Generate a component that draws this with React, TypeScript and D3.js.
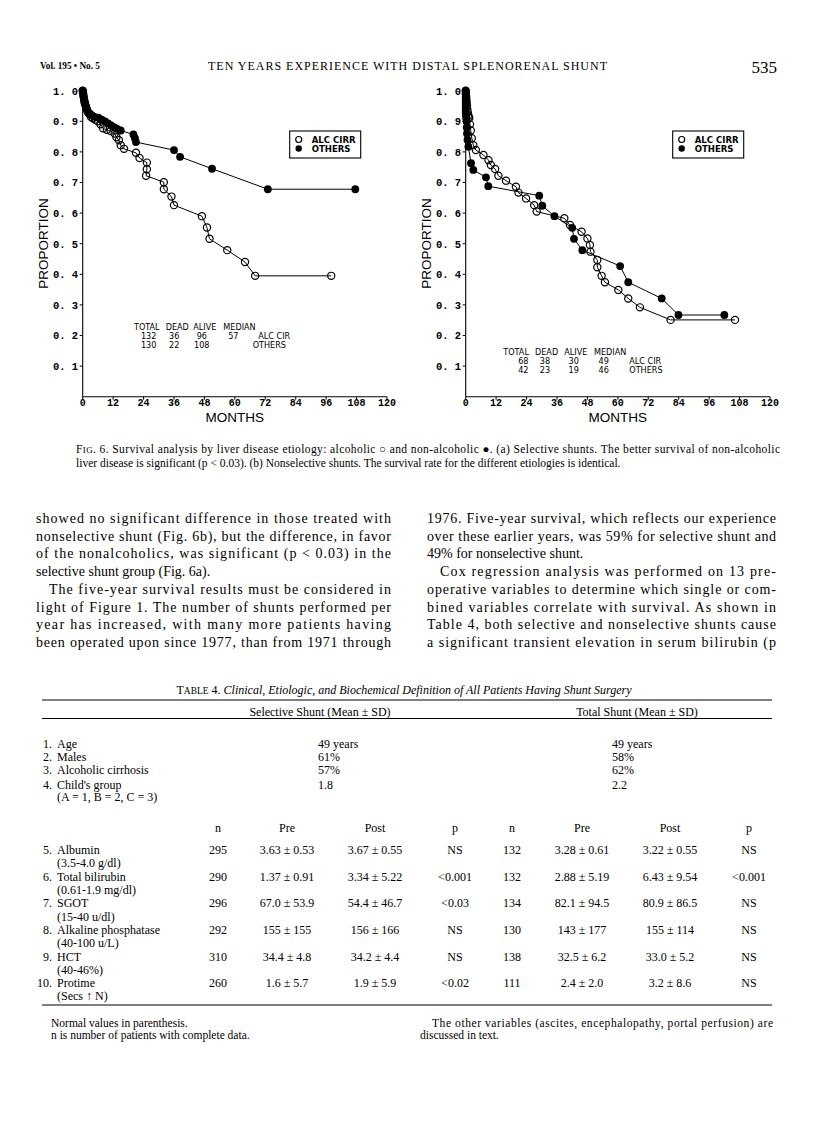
import React from 'react';
import * as d3 from 'd3';

// ---------- Chart data ----------
const xTicks = [0, 12, 24, 36, 48, 60, 72, 84, 96, 108, 120];
const yTicks = [0.1, 0.2, 0.3, 0.4, 0.5, 0.6, 0.7, 0.8, 0.9, 1.0];
const legendLabels = ['ALC CIRR', 'OTHERS'];
const statHeaders = ['TOTAL', 'DEAD', 'ALIVE', 'MEDIAN'];

// (a) Selective shunts
const leftAlcMonths = [0, 0.2, 0.4, 0.6, 0.9, 1.2, 1.6, 2.0, 2.5, 3.2, 4.0, 5.0, 6.0, 7.0, 8.0, 9.5, 11.0, 12.6, 13.3, 14.3, 15.0, 16.3, 21.0, 22.4, 25.3, 25.3, 25.0, 32.0, 32.0, 35.0, 36.0, 47.0, 49.0, 50.0, 57.0, 64.0, 68.0, 98.0];
const leftAlcProp = [1.0, 0.99, 0.98, 0.97, 0.96, 0.95, 0.94, 0.93, 0.925, 0.915, 0.91, 0.905, 0.9, 0.89, 0.877, 0.872, 0.868, 0.86, 0.848, 0.838, 0.822, 0.81, 0.797, 0.78, 0.765, 0.743, 0.722, 0.701, 0.678, 0.654, 0.626, 0.59, 0.553, 0.516, 0.479, 0.44, 0.395, 0.395];
const leftOthMonths = [0, 0.1, 0.2, 0.3, 0.5, 0.7, 1.0, 1.3, 1.7, 2.2, 2.8, 3.5, 4.5, 6.2, 7.5, 8.8, 10.0, 11.2, 12.5, 13.6, 15.0, 20.0, 20.6, 21.0, 36.0, 38.4, 51.0, 73.0, 107.5];
const leftOthProp = [1.0, 0.995, 0.99, 0.98, 0.97, 0.96, 0.955, 0.945, 0.938, 0.93, 0.925, 0.92, 0.915, 0.912, 0.905, 0.9, 0.893, 0.887, 0.88, 0.875, 0.87, 0.857, 0.845, 0.832, 0.806, 0.784, 0.745, 0.678, 0.678];
const leftStatRows = [['132', '36', '96', '57', 'ALC CIR'], ['130', '22', '108', '', 'OTHERS']];

// (b) Nonselective shunts
const rightAlcMonths = [0, 0.1, 0.2, 0.3, 0.4, 0.5, 0.6, 0.8, 1.0, 1.2, 1.4, 1.7, 2.0, 2.4, 3.0, 4.0, 7.0, 9.0, 9.9, 11.6, 12.9, 15.9, 19.8, 20.8, 23.8, 27.0, 28.0, 38.9, 41.1, 45.7, 48.0, 49.0, 49.2, 51.9, 51.9, 53.6, 54.9, 60.2, 64.1, 68.7, 80.8, 106.2];
const rightAlcProp = [1.0, 0.99, 0.98, 0.97, 0.96, 0.95, 0.94, 0.93, 0.92, 0.915, 0.91, 0.89, 0.87, 0.845, 0.822, 0.806, 0.79, 0.773, 0.757, 0.744, 0.722, 0.706, 0.686, 0.667, 0.648, 0.626, 0.605, 0.583, 0.561, 0.539, 0.517, 0.496, 0.474, 0.447, 0.423, 0.395, 0.374, 0.349, 0.321, 0.292, 0.251, 0.251];
const rightOthMonths = [0, 0, 0, 0, 0, 0, 0, 0, 0.1, 0.2, 0.3, 0.4, 0.5, 0.7, 1.05, 2.1, 3.0, 8.0, 8.9, 29.0, 30.2, 35.0, 42.0, 42.7, 46.0, 60.9, 64.1, 77.3, 83.9, 102.0];
const rightOthProp = [1.0, 0.99, 0.98, 0.97, 0.96, 0.95, 0.94, 0.93, 0.92, 0.91, 0.9, 0.88, 0.86, 0.84, 0.817, 0.763, 0.741, 0.717, 0.688, 0.657, 0.624, 0.59, 0.552, 0.516, 0.479, 0.427, 0.374, 0.321, 0.267, 0.267];
const rightStatRows = [['68', '38', '30', '49', 'ALC CIR'], ['42', '23', '19', '46', 'OTHERS']];

// ---------- Page text ----------
const headerLeft = 'Vol. 195 \u2022 No. 5';
const headerTitle = 'TEN YEARS EXPERIENCE WITH DISTAL SPLENORENAL SHUNT';
const headerPage = '535';

const captionLine1 = ' 6. Survival analysis by liver disease etiology: alcoholic \u25CB and non-alcoholic \u25CF. (a) Selective shunts. The better survival of non-alcoholic';
const captionLine2 = 'liver disease is significant (p < 0.03). (b) Nonselective shunts. The survival rate for the different etiologies is identical.';

const leftColumn = [
  'showed no significant difference in those treated with',
  'nonselective shunt (Fig. 6b), but the difference, in favor',
  'of the nonalcoholics, was significant (p < 0.03) in the',
  'selective shunt group (Fig. 6a).',
  'The five-year survival results must be considered in',
  'light of Figure 1. The number of shunts performed per',
  'year has increased, with many more patients having',
  'been operated upon since 1977, than from 1971 through',
];
const leftIndent = [false, false, false, false, true, false, false, false];
const leftLast = [false, false, false, true, false, false, false, false];
const rightColumn = [
  '1976. Five-year survival, which reflects our experience',
  'over these earlier years, was 59% for selective shunt and',
  '49% for nonselective shunt.',
  'Cox regression analysis was performed on 13 pre-',
  'operative variables to determine which single or com-',
  'bined variables correlate with survival. As shown in',
  'Table 4, both selective and nonselective shunts cause',
  'a significant transient elevation in serum bilirubin (p',
];
const rightIndent = [false, false, false, true, false, false, false, false];
const rightLast = [false, false, true, false, false, false, false, false];

const tableTitle = 'Clinical, Etiologic, and Biochemical Definition of All Patients Having Shunt Surgery';
const groupHeaders = ['Selective Shunt (Mean \u00B1 SD)', 'Total Shunt (Mean \u00B1 SD)'];
const topLabels = ['Age', 'Males', 'Alcoholic cirrhosis', "Child's group"];
const topSelective = ['49 years', '61%', '57%', '1.8'];
const topTotal = ['49 years', '58%', '62%', '2.2'];
const colHeaders = ['n', 'Pre', 'Post', 'p', 'n', 'Pre', 'Post', 'p'];
const labNames = ['Albumin', 'Total bilirubin', 'SGOT', 'Alkaline phosphatase', 'HCT', 'Protime'];
const labNormals = ['(3.5-4.0 g/dl)', '(0.61-1.9 mg/dl)', '(15-40 u/dl)', '(40-100 u/L)', '(40-46%)', '(Secs \u2191 N)'];
const selN = ['295', '290', '296', '292', '310', '260'];
const selPre = ['3.63 \u00B1 0.53', '1.37 \u00B1 0.91', '67.0 \u00B1 53.9', '155 \u00B1 155', '34.4 \u00B1 4.8', '1.6 \u00B1 5.7'];
const selPost = ['3.67 \u00B1 0.55', '3.34 \u00B1 5.22', '54.4 \u00B1 46.7', '156 \u00B1 166', '34.2 \u00B1 4.4', '1.9 \u00B1 5.9'];
const selP = ['NS', '<0.001', '<0.03', 'NS', 'NS', '<0.02'];
const totN = ['132', '132', '134', '130', '138', '111'];
const totPre = ['3.28 \u00B1 0.61', '2.88 \u00B1 5.19', '82.1 \u00B1 94.5', '143 \u00B1 177', '32.5 \u00B1 6.2', '2.4 \u00B1 2.0'];
const totPost = ['3.22 \u00B1 0.55', '6.43 \u00B1 9.54', '80.9 \u00B1 86.5', '155 \u00B1 114', '33.0 \u00B1 5.2', '3.2 \u00B1 8.6'];
const totP = ['NS', '<0.001', 'NS', 'NS', 'NS', 'NS'];

const SERIF = '"Liberation Serif", "Times New Roman", serif';
const SANS = '"Liberation Sans", Arial, sans-serif';
const NARROW = '"Liberation Sans Narrow", "DejaVu Sans Condensed", "Liberation Sans", sans-serif';
const MONO = '"Liberation Mono", "DejaVu Sans Mono", monospace';

const fmtTick = (v: number) => v.toFixed(1).replace('.', '. ');

type ChartProps = {
  ox: number;
  alcM: number[]; alcP: number[]; othM: number[]; othP: number[];
  statX: number[]; statValX: number[]; statLabelX: number[]; statY: number;
  rows: string[][];
};

function Chart(props: ChartProps) {
  const { ox, alcM, alcP, othM, othP, statX, statValX, statLabelX, statY, rows } = props;
  const x = d3.scaleLinear().domain([0, 120]).range([ox, ox + 304.3]);
  const y = d3.scaleLinear().domain([0, 1]).range([396.7, 90.7]);
  const line = d3.line<[number, number]>().x(d => x(d[0])).y(d => y(d[1]));
  const alc: [number, number][] = alcM.map((m, i) => [m, alcP[i]]);
  const oth: [number, number][] = othM.map((m, i) => [m, othP[i]]);
  const lgX = ox + 207;
  return (
    <g>
      {/* axes */}
      <line x1={x(0)} x2={x(0)} y1={y(0)} y2={y(1)} stroke="#000" strokeWidth={1.1} />
      <line x1={x(0)} x2={x(120)} y1={y(0)} y2={y(0)} stroke="#000" strokeWidth={1.1} />
      {yTicks.map(t => (
        <g key={'y' + t}>
          <line x1={x(0) - 3} x2={x(0)} y1={y(t)} y2={y(t)} stroke="#000" strokeWidth={1} />
          <text x={x(0) - 4.5} y={y(t) + 3.8} textAnchor="end" fontFamily={MONO} fontSize={10.5} fontWeight={700}>{fmtTick(t)}</text>
        </g>
      ))}
      {xTicks.map(t => (
        <g key={'x' + t}>
          <line x1={x(t)} x2={x(t)} y1={y(0)} y2={y(0) + 3} stroke="#000" strokeWidth={1} />
          <text x={x(t)} y={405.5} textAnchor="middle" fontFamily={MONO} fontSize={10} fontWeight={700}>{t}</text>
        </g>
      ))}
      <text x={(x(0) + x(120)) / 2} y={421.5} textAnchor="middle" fontFamily={SANS} fontSize={13.5}>MONTHS</text>
      <text transform={`translate(${ox - 34.5},243.5) rotate(-90)`} textAnchor="middle" fontFamily={SANS} fontSize={13.5}>PROPORTION</text>

      {/* curves */}
      <path d={line(oth) || ''} fill="none" stroke="#000" strokeWidth={1} />
      <path d={line(alc) || ''} fill="none" stroke="#000" strokeWidth={1} />
      {oth.map((d, i) => <circle key={'o' + i} cx={x(d[0])} cy={y(d[1])} r={3.9} fill="#000" />)}
      {alc.map((d, i) => <circle key={'a' + i} cx={x(d[0])} cy={y(d[1])} r={3.6} fill="none" stroke="#000" strokeWidth={1.2} />)}

      {/* legend */}
      <rect x={lgX} y={131} width={71} height={27} fill="none" stroke="#000" strokeWidth={1.1} />
      <circle cx={lgX + 9} cy={139.5} r={3} fill="none" stroke="#000" strokeWidth={1.2} />
      <circle cx={lgX + 9} cy={148.5} r={3.2} fill="#000" />
      <text x={lgX + 22} y={142.8} fontFamily={NARROW} fontSize={9.5} fontWeight={700}>{legendLabels[0]}</text>
      <text x={lgX + 22} y={151.8} fontFamily={NARROW} fontSize={9.5} fontWeight={700}>{legendLabels[1]}</text>

      {/* summary table */}
      {statHeaders.map((h, i) => (
        <text key={'h' + h} x={statX[i]} y={statY + 3.3} fontFamily={NARROW} fontSize={9}>{h}</text>
      ))}
      {rows.map((r, ri) => (
        <g key={'r' + ri}>
          {r.slice(0, 4).map((v, ci) => (
            <text key={ci} x={statValX[ci]} y={statY + 3.3 + 9 * (ri + 1)} textAnchor="middle" fontFamily={NARROW} fontSize={9}>{v}</text>
          ))}
          <text x={statLabelX[ri]} y={statY + 3.3 + 9 * (ri + 1)} fontFamily={NARROW} fontSize={9}>{r[4]}</text>
        </g>
      ))}
    </g>
  );
}

function Column({ lines, indent, last, x0, x1, y0 }: { lines: string[]; indent: boolean[]; last: boolean[]; x0: number; x1: number; y0: number }) {
  return (
    <g fontFamily={SERIF} fontSize={14}>
      {lines.map((l, i) => {
        const xs = indent[i] ? x0 + 13 : x0;
        const yy = y0 + i * 17.7;
        return last[i]
          ? <text key={i} x={xs} y={yy}>{l}</text>
          : <text key={i} x={xs} y={yy} textLength={x1 - xs} lengthAdjust="spacing">{l}</text>;
      })}
    </g>
  );
}

export default function App() {
  const colN = [218, 287, 375, 455, 512, 582, 670, 749];
  const labY = [850, 877, 903.3, 930, 956.7, 982.7];
  const topY = [744.3, 757.3, 770.3, 784.5];
  return (
    <svg width={816} height={1138} viewBox="0 0 816 1138" style={{ position: 'absolute', left: 0, top: 0, background: '#fff' }}>
      <rect x={0} y={0} width={816} height={1138} fill="#fff" />
      {/* running header */}
      <text x={40} y={68.5} fontFamily={SERIF} fontSize={9.5} fontWeight={700} textLength={60} lengthAdjust="spacingAndGlyphs">{headerLeft}</text>
      <text x={208} y={70} fontFamily={SERIF} fontSize={12} textLength={399} lengthAdjust="spacing">{headerTitle}</text>
      <text x={777} y={72.5} textAnchor="end" fontFamily={SERIF} fontSize={17}>{headerPage}</text>

      <Chart ox={82.7} alcM={leftAlcMonths} alcP={leftAlcProp} othM={leftOthMonths} othP={leftOthProp}
        statX={[134, 165.7, 193.3, 223.3]} statValX={[148.7, 174.2, 201.8, 233.3]} statLabelX={[258.3, 252.7]} statY={327} rows={leftStatRows} />
      <Chart ox={465.7} alcM={rightAlcMonths} alcP={rightAlcProp} othM={rightOthMonths} othP={rightOthProp}
        statX={[503.3, 535, 564.3, 594]} statValX={[523.3, 545, 573.7, 603.7]} statLabelX={[629.3, 629.3]} statY={352} rows={rightStatRows} />

      {/* caption */}
      <text x={76} y={453} fontFamily={SERIF} fontSize={11.5} textLength={704} lengthAdjust="spacing">
        <tspan>F</tspan><tspan fontSize={9}>IG</tspan><tspan>.{captionLine1}</tspan>
      </text>
      <text x={76} y={467} fontFamily={SERIF} fontSize={11.5}>{captionLine2}</text>

      {/* body text */}
      <Column lines={leftColumn} indent={leftIndent} last={leftLast} x0={36} x1={391} y0={523} />
      <Column lines={rightColumn} indent={rightIndent} last={rightLast} x0={427} x1={776} y0={523} />

      {/* table */}
      <text x={404} y={694} textAnchor="middle" fontFamily={SERIF} fontSize={12}>
        <tspan>T</tspan><tspan fontSize={9.5}>ABLE</tspan><tspan> 4. </tspan><tspan fontStyle="italic">{tableTitle}</tspan>
      </text>
      <line x1={42} x2={772} y1={700} y2={700} stroke="#000" strokeWidth={1} />
      <text x={320} y={716} textAnchor="middle" fontFamily={SERIF} fontSize={12}>{groupHeaders[0]}</text>
      <text x={637} y={716} textAnchor="middle" fontFamily={SERIF} fontSize={12}>{groupHeaders[1]}</text>
      <line x1={42} x2={772} y1={718.5} y2={718.5} stroke="#000" strokeWidth={1} />
      <g fontFamily={SERIF} fontSize={12}>
        {topLabels.map((l, i) => (
          <g key={'t' + i}>
            <text x={52} y={topY[i] + 4} textAnchor="end">{i + 1}.</text>
            <text x={57} y={topY[i] + 4}>{l}</text>
            <text x={318} y={topY[i] + 4}>{topSelective[i]}</text>
            <text x={612} y={topY[i] + 4}>{topTotal[i]}</text>
          </g>
        ))}
        <text x={57} y={796.7 + 4}>(A = 1, B = 2, C = 3)</text>
        {colHeaders.map((h, i) => (
          <text key={'c' + i} x={colN[i]} y={828.3 + 4} textAnchor="middle">{h}</text>
        ))}
        {labNames.map((l, i) => (
          <g key={'l' + i}>
            <text x={52} y={labY[i] + 4} textAnchor="end">{i + 5}.</text>
            <text x={57} y={labY[i] + 4}>{l}</text>
            <text x={57} y={labY[i] + 17.3}>{labNormals[i]}</text>
            <text x={colN[0]} y={labY[i] + 4} textAnchor="middle">{selN[i]}</text>
            <text x={colN[1]} y={labY[i] + 4} textAnchor="middle">{selPre[i]}</text>
            <text x={colN[2]} y={labY[i] + 4} textAnchor="middle">{selPost[i]}</text>
            <text x={colN[3]} y={labY[i] + 4} textAnchor="middle">{selP[i]}</text>
            <text x={colN[4]} y={labY[i] + 4} textAnchor="middle">{totN[i]}</text>
            <text x={colN[5]} y={labY[i] + 4} textAnchor="middle">{totPre[i]}</text>
            <text x={colN[6]} y={labY[i] + 4} textAnchor="middle">{totPost[i]}</text>
            <text x={colN[7]} y={labY[i] + 4} textAnchor="middle">{totP[i]}</text>
          </g>
        ))}
      </g>
      <line x1={42} x2={772} y1={1005} y2={1005} stroke="#000" strokeWidth={1} />
      <g fontFamily={SERIF} fontSize={11.5}>
        <text x={51} y={1027}>Normal values in parenthesis.</text>
        <text x={51} y={1039}>n is number of patients with complete data.</text>
        <text x={432} y={1027} textLength={341} lengthAdjust="spacing">The other variables (ascites, encephalopathy, portal perfusion) are</text>
        <text x={420} y={1039}>discussed in text.</text>
      </g>
    </svg>
  );
}
